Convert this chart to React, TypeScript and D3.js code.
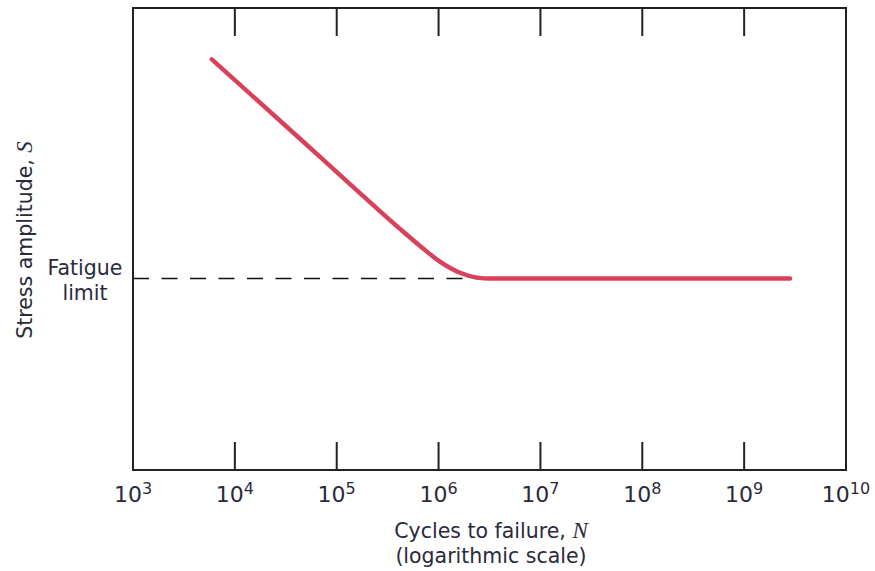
import React from "react";
import * as d3 from "d3";

const W = 875;
const H = 571;

// Curve: cycles N and stress amplitude S (arbitrary units, 0–100)
const cyclesN: number[] = [5930, 43600, 135000, 418000, 658000, 1030000, 1620000, 2380000, 3200000, 2820000000];
const stressS: number[] = [88.9, 71.7, 61.9, 52.2, 48.5, 45.1, 42.7, 41.65, 41.45, 41.45];
const fatigueLimit = 41.45;
const dashEndN = 2840000;
const tickExponents: number[] = [3, 4, 5, 6, 7, 8, 9, 10];

const M = { left: 133, right: 846, top: 8, bottom: 470 };

export default function App() {
  const x = d3.scaleLog().domain([1e3, 1e10]).range([M.left, M.right]);
  const y = d3.scaleLinear().domain([0, 100]).range([M.bottom, M.top]);

  const pts = cyclesN.map((n, i) => [n, stressS[i]] as [number, number]);
  const line = d3
    .line<[number, number]>()
    .x((d) => x(d[0]))
    .y((d) => y(d[1]))
    .curve(d3.curveMonotoneX);

  const font = "'DejaVu Sans', Verdana, sans-serif";
  const tickLen = 28;
  const textColor = "#2a2a3a";

  return (
    <svg
      width={W}
      height={H}
      style={{ position: "absolute", left: 0, top: 0, background: "#fff" }}
    >
      {/* dashed fatigue limit */}
      <line
        x1={M.left}
        x2={x(dashEndN)}
        y1={y(fatigueLimit)}
        y2={y(fatigueLimit)}
        stroke="#111"
        strokeWidth={1.6}
        strokeDasharray="16,12.5"
      />
      {/* curve */}
      <path d={line(pts) || ""} fill="none" stroke="#d9415a" strokeWidth={4.4} strokeLinecap="round" strokeLinejoin="round" />

      {/* frame */}
      <rect
        x={M.left}
        y={M.top}
        width={M.right - M.left}
        height={M.bottom - M.top}
        fill="none"
        stroke="#222"
        strokeWidth={2}
      />
      {/* ticks */}
      {tickExponents.slice(1, -1).map((e) => {
        const tx = x(Math.pow(10, e));
        return (
          <g key={"t" + e}>
            <line x1={tx} x2={tx} y1={M.bottom} y2={M.bottom - tickLen} stroke="#222" strokeWidth={2} />
            <line x1={tx} x2={tx} y1={M.top} y2={M.top + tickLen} stroke="#222" strokeWidth={2} />
          </g>
        );
      })}
      {/* tick labels */}
      {tickExponents.map((e) => (
        <text
          key={"l" + e}
          x={x(Math.pow(10, e))}
          y={502}
          textAnchor="middle"
          fontFamily={font}
          fontSize={22}
          fill={textColor}
        >
          10
          <tspan fontSize={16} dy={-8}>
            {e}
          </tspan>
        </text>
      ))}

      {/* x axis title */}
      <text x={491} y={538} textAnchor="middle" fontFamily={font} fontSize={20.5} fill={textColor}>
        Cycles to failure,{" "}
        <tspan fontFamily="'Liberation Serif', 'Times New Roman', serif" fontStyle="italic" fontSize={23}>
          N
        </tspan>
      </text>
      <text x={491} y={563} textAnchor="middle" fontFamily={font} fontSize={20.5} fill={textColor}>
        (logarithmic scale)
      </text>

      {/* y axis title */}
      <text
        transform={`translate(32,${240}) rotate(-90)`}
        textAnchor="middle"
        fontFamily={font}
        fontSize={20.5}
        fill={textColor}
      >
        Stress amplitude,{"  "}
        <tspan fontFamily="'Liberation Serif', 'Times New Roman', serif" fontStyle="italic" fontSize={23}>
          S
        </tspan>
      </text>

      {/* Fatigue limit label */}
      <text x={85} y={275} textAnchor="middle" fontFamily={font} fontSize={20.5} fill={textColor}>
        Fatigue
      </text>
      <text x={85} y={300} textAnchor="middle" fontFamily={font} fontSize={20.5} fill={textColor}>
        limit
      </text>
    </svg>
  );
}
